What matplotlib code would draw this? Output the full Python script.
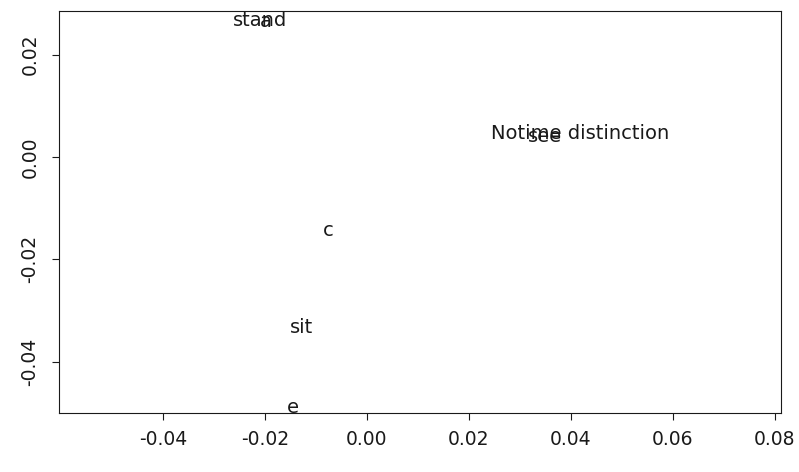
import matplotlib
matplotlib.use("Agg")
import matplotlib.pyplot as plt

labels = ["stand", "a", "Notime distinction", "see", "c", "sit", "e"]
xs = [-0.0210, -0.0198, 0.0419, 0.0349, -0.0076, -0.0129, -0.0145]
ys = [0.0266, 0.0264, 0.0045, 0.0040, -0.0143, -0.0334, -0.0489]

xticks = [-0.04, -0.02, 0.00, 0.02, 0.04, 0.06, 0.08]
yticks = [-0.04, -0.02, 0.00, 0.02]

plt.rcParams['font.family'] = ['DejaVu Sans']

fig = plt.figure(figsize=(7.99, 4.72), dpi=100)
ax = fig.add_axes([59/799, 1-413/472, (781-59)/799, (413-11)/472])

for lab, x, y in zip(labels, xs, ys):
    ax.text(x, y, lab, ha='center', va='center', fontsize=14, color='#1a1a1a')

ax.set_xlim(-0.0604, 0.0812)
ax.set_ylim(-0.0500, 0.0285)
ax.set_xticks(xticks)
ax.set_xticklabels([f"{v:.2f}" for v in xticks])
ax.set_yticks(yticks)
ax.set_yticklabels([f"{v:.2f}" for v in yticks], rotation=90, va='center')
ax.tick_params(axis='both', direction='out', length=5, width=0.8, labelsize=13.5, colors='#1a1a1a')
ax.tick_params(axis='x', pad=7)
ax.tick_params(axis='y', pad=9)
for s in ax.spines.values():
    s.set_linewidth(0.8)
    s.set_color('#1a1a1a')

fig.savefig("out.png", dpi=100)
